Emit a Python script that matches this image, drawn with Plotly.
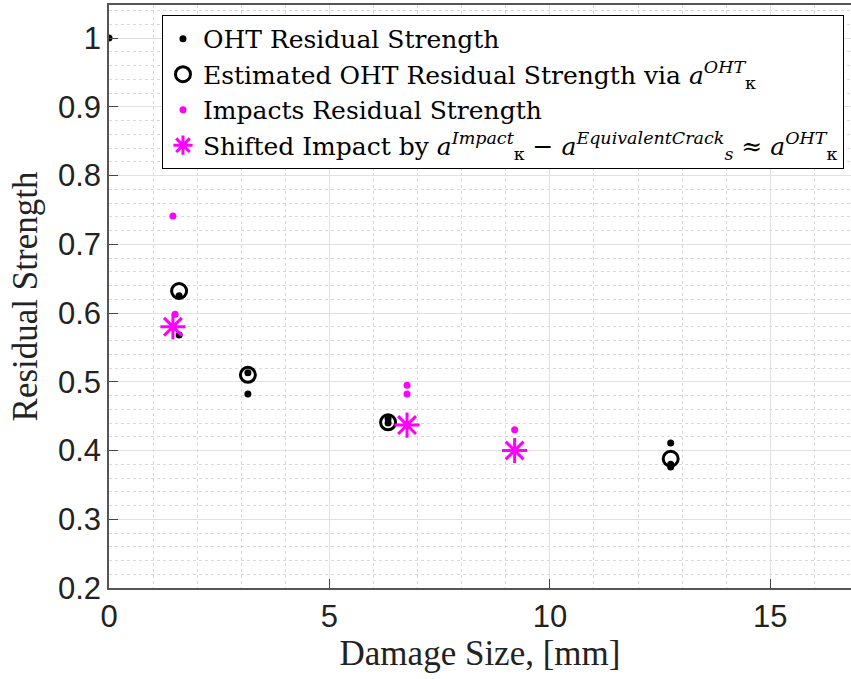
import plotly.graph_objects as go

# OHT residual strength (black dots)
oht_x = [0.0, 1.59, 1.59, 3.15, 3.15, 6.33, 6.33, 12.74, 12.74, 12.74]
oht_y = [1.0, 0.625, 0.568, 0.513, 0.482, 0.446, 0.440, 0.411, 0.380, 0.376]

# Estimated OHT residual strength (open circles)
est_x = [1.59, 3.15, 6.33, 12.74]
est_y = [0.632, 0.510, 0.441, 0.388]

# Impacts residual strength (magenta dots)
imp_x = [1.45, 1.50, 6.76, 6.76, 9.20]
imp_y = [0.741, 0.598, 0.495, 0.482, 0.430]

# Shifted impacts (magenta asterisks)
sh_x = [1.45, 6.76, 9.20]
sh_y = [0.580, 0.437, 0.400]

x_ticks = [0, 5, 10, 15]
y_ticks = [0.2, 0.3, 0.4, 0.5, 0.6, 0.7, 0.8, 0.9, 1.0]
y_labels = ["0.2", "0.3", "0.4", "0.5", "0.6", "0.7", "0.8", "0.9", "1"]

serif = "Liberation Serif, DejaVu Serif, serif"
leg_serif = "DejaVu Serif, Liberation Serif, serif"
sans = "Liberation Sans, Arial, sans-serif"

fig = go.Figure()
fig.add_trace(go.Scatter(x=oht_x, y=oht_y, mode="markers", name="OHT Residual Strength",
                         marker=dict(color="black", size=7, symbol="circle")))
fig.add_trace(go.Scatter(x=est_x, y=est_y, mode="markers",
                         name="Estimated OHT Residual Strength via <i>a</i><sup><i>OHT</i></sup><sub>κ</sub>",
                         marker=dict(color="black", size=15, symbol="circle-open", line=dict(width=3, color="black"))))
fig.add_trace(go.Scatter(x=imp_x, y=imp_y, mode="markers", name="Impacts Residual Strength",
                         marker=dict(color="#ff00ff", size=7, symbol="circle")))
fig.add_trace(go.Scatter(x=sh_x, y=sh_y, mode="markers",
                         name="Shifted Impact by <i>a</i><sup><i>Impact</i></sup><sub>κ</sub> − <i>a</i><sup><i>EquivalentCrack</i></sup><sub><i>s</i></sub> ≈ <i>a</i><sup><i>OHT</i></sup><sub>κ</sub>",
                         marker=dict(color="#ff00ff", size=21, symbol="asterisk-open", line=dict(width=3, color="#ff00ff"))))

fig.update_layout(
    width=851, height=679,
    margin=dict(l=109, r=0, t=5, b=91),
    plot_bgcolor="white", paper_bgcolor="white",
    showlegend=True,
    legend=dict(x=0.0714, y=0.983, xanchor="left", yanchor="top",
                bgcolor="white", bordercolor="black", borderwidth=1,
                font=dict(family=leg_serif, size=25, color="black"),
                tracegroupgap=0, itemsizing="trace"),
    xaxis=dict(range=[0, 16.83], tickvals=x_ticks, ticktext=[str(v) for v in x_ticks],
               showgrid=True, gridcolor="#e0e0e0", gridwidth=1,
               minor=dict(dtick=1, showgrid=True, gridcolor="#d8d8d8", griddash="dot", ticks=""),
               ticks="inside", ticklen=9, tickcolor="#444", showline=True, linecolor="#555", linewidth=1.5,
               mirror=True, zeroline=False, automargin=False,
               tickfont=dict(family=sans, size=31, color="#222"),
               title=dict(text="Damage Size, [mm]", font=dict(family=serif, size=35, color="#222"), standoff=8)),
    yaxis=dict(range=[0.2, 1.048], tickvals=y_ticks, ticktext=y_labels,
               showgrid=True, gridcolor="#e0e0e0", gridwidth=1,
               minor=dict(dtick=0.02, tick0=0.2, showgrid=True, gridcolor="#d8d8d8", griddash="dot", ticks=""),
               ticks="inside", ticklen=9, tickcolor="#444", showline=True, linecolor="#555", linewidth=1.5,
               mirror=True, zeroline=False, automargin=False,
               tickfont=dict(family=sans, size=31, color="#222"),
               title=dict(text="Residual Strength", font=dict(family=serif, size=35, color="#222"), standoff=10)),
)

fig.write_html("out.html", config={"displayModeBar": False},
               post_script="document.body.style.margin='0';")
